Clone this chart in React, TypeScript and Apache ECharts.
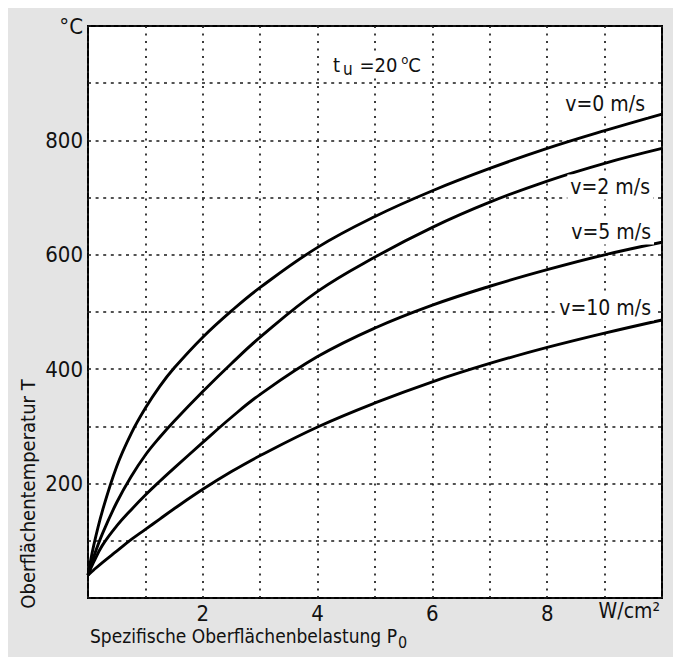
import React, { useEffect, useRef } from "react";
import * as echarts from "echarts";

const xValues = [0, 0.1, 0.25, 0.5, 0.75, 1, 1.25, 1.5, 2, 2.5, 3, 4, 5, 6, 7, 8, 9, 10];
const seriesNames = ["v=0 m/s", "v=2 m/s", "v=5 m/s", "v=10 m/s"];
const v0 = [40, 92, 152, 230, 287, 332, 370, 402, 456, 502, 543, 613, 667, 712, 751, 786, 817, 846];
const v2 = [40, 72, 112, 167, 212, 250, 281, 309, 361, 410, 456, 536, 596, 648, 692, 729, 760, 786];
const v5 = [40, 63, 92, 126, 154, 180, 204, 227, 272, 316, 356, 422, 472, 512, 545, 574, 600, 622];
const v10 = [40, 49, 62, 82, 102, 120, 138, 156, 190, 221, 249, 299, 341, 378, 410, 438, 463, 486];
const xTickLabels = [2, 4, 6, 8];
const yTickLabels = [200, 400, 600, 800];

const FONT = "'Liberation Sans Narrow', 'DejaVu Sans Condensed', 'Liberation Sans', sans-serif";

export default function App() {
  const ref = useRef<HTMLDivElement>(null);
  useEffect(() => {
    if (!ref.current) return;
    const chart = echarts.init(ref.current, undefined, { renderer: "svg" });
    const all = [v0, v2, v5, v10];
    const labelPos = [
      { x: 640, y: 96 },
      { x: 645, y: 179 },
      { x: 646, y: 224 },
      { x: 646, y: 300 },
    ];
    chart.setOption({
      animation: false,
      backgroundColor: "#e4e4e4",
      grid: {
        left: 80,
        top: 18,
        right: 19,
        bottom: 59,
        show: true,
        backgroundColor: "#ffffff",
        borderColor: "#000000",
        borderWidth: 2,
      },
      xAxis: {
        type: "value",
        min: 0,
        max: 10,
        interval: 1,
        axisLine: { show: false },
        axisTick: { show: false },
        axisLabel: {
          margin: 4,
          color: "#111",
          fontSize: 22,
          fontFamily: FONT,
          formatter: (v: number) => (xTickLabels.includes(v) ? String(v) : ""),
        },
        splitLine: {
          show: true,
          lineStyle: { color: "#1a1a1a", width: 1.7, type: [2, 5.5] },
        },
      },
      yAxis: {
        type: "value",
        min: 0,
        max: 1000,
        interval: 100,
        axisLine: { show: false },
        axisTick: { show: false },
        axisLabel: {
          margin: 5,
          color: "#111",
          fontSize: 22,
          fontFamily: FONT,
          formatter: (v: number) =>
            yTickLabels.includes(v) ? String(v) : v === 1000 ? "°C" : "",
        },
        splitLine: {
          show: true,
          lineStyle: { color: "#1a1a1a", width: 1.7, type: [3, 4.6] },
        },
      },
      series: all.map((vals, i) => ({
        name: seriesNames[i],
        type: "line",
        data: xValues.map((x, j) => [x, vals[j]]),
        smooth: 0.4,
        symbol: "none",
        lineStyle: { color: "#000", width: 2.9 },
        z: 5,
      })),
      graphic: [
        ...seriesNames.map((n, i) => ({
          type: "text",
          x: labelPos[i].x,
          y: labelPos[i].y,
          z: 10,
          style: {
            text: n,
            fill: "#111",
            font: `21px ${FONT}`,
            align: "right",
            verticalAlign: "middle",
            backgroundColor: "#ffffff",
            padding: [2, 3, 2, 3],
          },
        })),
        {
          type: "text",
          x: 652,
          y: 603,
          style: {
            text: "W/cm²",
            fill: "#111",
            font: `21px ${FONT}`,
            align: "right",
            verticalAlign: "middle",
          },
        },
        {
          type: "text",
          x: 325,
          y: 57,
          z: 10,
          style: {
            text: "{m|t}{sub|u}{m| =20}{sup| o}{m|C}",
            fill: "#111",
            align: "left",
            verticalAlign: "middle",
            backgroundColor: "#ffffff",
            padding: [1, 2, 1, 0],
            rich: {
              m: { fontSize: 20, fontFamily: FONT, lineHeight: 24, verticalAlign: "middle", fill: "#111" },
              sub: { fontSize: 17, fontFamily: FONT, lineHeight: 17, padding: [0, 1, 0, 3], verticalAlign: "bottom", fill: "#111" },
              sup: { fontSize: 13, fontFamily: FONT, lineHeight: 13, verticalAlign: "top", fill: "#111" },
            },
          },
        },
        {
          type: "text",
          x: 20,
          y: 486,
          rotation: Math.PI / 2,
          style: {
            text: "Oberflächentemperatur T",
            fill: "#111",
            font: `20px ${FONT}`,
            align: "center",
            verticalAlign: "middle",
          },
        },
        {
          type: "text",
          x: 82,
          y: 630,
          style: {
            text: "{m|Spezifische Oberflächenbelastung P}{sub|0}",
            fill: "#111",
            align: "left",
            verticalAlign: "middle",
            rich: {
              m: { fontSize: 19, fontFamily: FONT, lineHeight: 24, verticalAlign: "top", fill: "#111" },
              sub: { fontSize: 16, fontFamily: FONT, lineHeight: 16, padding: [12, 0, 0, 1], verticalAlign: "bottom", fill: "#111" },
            },
          },
        },
      ],
    });
    return () => chart.dispose();
  }, []);
  return <div ref={ref} style={{ width: 673, height: 649 }} />;
}
